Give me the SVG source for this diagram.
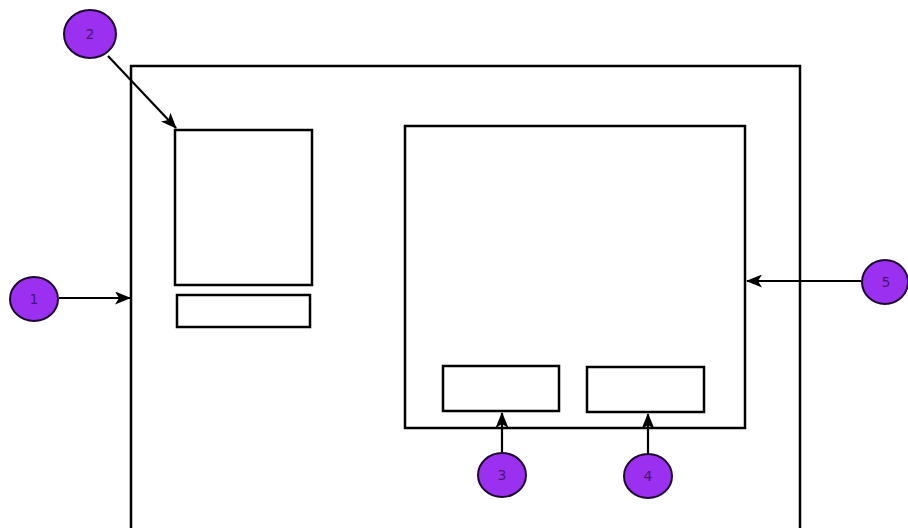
<svg xmlns="http://www.w3.org/2000/svg" width="908" height="528" viewBox="0 0 908 528">
<style>
.box{fill:#fff;stroke:#000;stroke-width:2.5}
.badge{fill:#9b30f0;stroke:#1e0830;stroke-width:2}
.lbl{font-family:"DejaVu Sans",sans-serif;font-size:14px;fill:#4a1670;text-anchor:middle;dominant-baseline:central}
.conn{stroke:#000;stroke-width:2.2;fill:none;marker-end:url(#ah)}
</style>
<defs>
<marker id="ah" viewBox="0 0 16 13" refX="15" refY="6.5" markerWidth="16" markerHeight="13" markerUnits="userSpaceOnUse" orient="auto">
<path d="M0,0 L16,6.5 L0,13 L4,6.5 Z" fill="#000"/>
</marker>
</defs>
<rect width="908" height="528" fill="#fff"/>
<g id="outer"><rect class="box" x="131" y="66" width="669" height="480"/></g>
<g id="left-panel"><rect class="box" x="175" y="130" width="137" height="155"/></g>
<g id="left-bar"><rect class="box" x="177" y="295" width="133" height="32"/></g>
<g id="right-panel"><rect class="box" x="405" y="126" width="340" height="302"/></g>
<g id="slot-a"><rect class="box" x="443" y="366" width="116" height="45"/></g>
<g id="slot-b"><rect class="box" x="587" y="367" width="117" height="45"/></g>
<g id="connectors">
<line class="conn" x1="59" y1="298" x2="130" y2="298"/>
<line class="conn" x1="108" y1="56" x2="176" y2="128"/>
<line class="conn" x1="861" y1="281" x2="747" y2="281"/>
<line class="conn" x1="502" y1="452" x2="502" y2="413"/>
<line class="conn" x1="648" y1="453" x2="648" y2="414"/>
</g>
<g id="badge1"><ellipse class="badge" cx="34" cy="299" rx="24" ry="22"/><text class="lbl" x="34" y="299">1</text></g>
<g id="badge2"><ellipse class="badge" cx="90" cy="34" rx="26" ry="24"/><text class="lbl" x="90" y="34">2</text></g>
<g id="badge3"><ellipse class="badge" cx="502" cy="475" rx="24" ry="22"/><text class="lbl" x="502" y="475">3</text></g>
<g id="badge4"><ellipse class="badge" cx="648" cy="476" rx="24" ry="22"/><text class="lbl" x="648" y="476">4</text></g>
<g id="badge5"><ellipse class="badge" cx="885" cy="282" rx="23" ry="22"/><text class="lbl" x="886" y="282">5</text></g>
</svg>
